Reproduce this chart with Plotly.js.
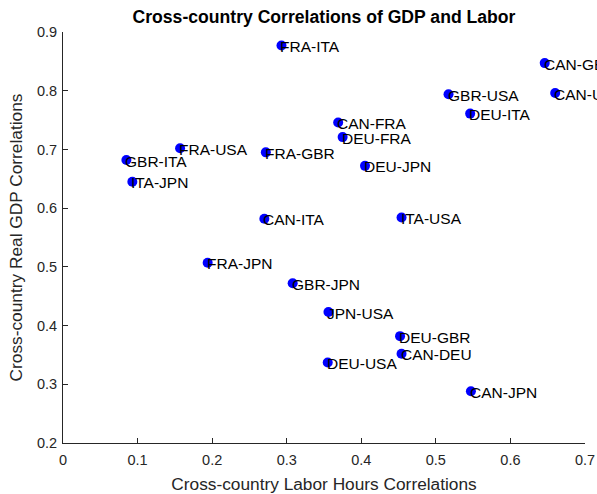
<!DOCTYPE html>
<html>
<head>
<meta charset="utf-8">
<script src="https://cdn.plot.ly/plotly-3.0.1.min.js"></script>
<style>html,body{margin:0;padding:0;background:#fff;}#chart{width:597px;height:494px;}</style>
</head>
<body>
<div id="chart"></div>
<script>
// Country pairs
var pairs = ["FRA-ITA","FRA-USA","GBR-ITA","ITA-JPN","FRA-GBR","CAN-ITA","CAN-GBR","GBR-USA","CAN-USA","DEU-ITA","CAN-FRA","DEU-FRA","DEU-JPN","ITA-USA","FRA-JPN","GBR-JPN","JPN-USA","DEU-GBR","CAN-DEU","DEU-USA","CAN-JPN"];
// Cross-country labor hours correlations
var laborCorr = [0.293,0.157,0.085,0.093,0.272,0.270,0.646,0.517,0.660,0.546,0.369,0.375,0.405,0.454,0.194,0.308,0.356,0.452,0.454,0.355,0.547];
// Cross-country real GDP correlations
var gdpCorr = [0.877,0.702,0.682,0.645,0.695,0.582,0.847,0.794,0.796,0.761,0.746,0.721,0.672,0.584,0.507,0.472,0.423,0.382,0.352,0.337,0.288];
var xTicks = [0,0.1,0.2,0.3,0.4,0.5,0.6,0.7];
var yTicks = [0.2,0.3,0.4,0.5,0.6,0.7,0.8,0.9];

var FONT = '"Liberation Sans", Arial, Helvetica, sans-serif';
var axisColor = '#262626';

var trace = {
  type: 'scatter', mode: 'markers',
  x: laborCorr, y: gdpCorr,
  marker: {color: '#0000ff', size: 10, line: {width: 0}},
  cliponaxis: false,
  hoverinfo: 'skip'
};

var annotations = pairs.map(function(p, i) {
  return {
    x: laborCorr[i], y: gdpCorr[i], xref: 'x', yref: 'y',
    text: p, showarrow: false, xanchor: 'left', yanchor: 'middle',
    xshift: -3, yshift: -1,
    font: {family: FONT, size: 15.5, color: '#000000'}
  };
});

var layout = {
  width: 597, height: 494,
  margin: {l: 63, r: 12, t: 32, b: 51, pad: 0},
  paper_bgcolor: '#ffffff', plot_bgcolor: '#ffffff',
  showlegend: false,
  title: {text: '<b>Cross-country Correlations of GDP and Labor</b>',
    font: {family: FONT, size: 17.6, color: '#000000'},
    x: 0.5427, xanchor: 'center', y: 0.966, yanchor: 'middle'},
  xaxis: {
    range: [0, 0.7], tickvals: xTicks, ticktext: xTicks.map(String),
    showgrid: false, zeroline: false, showline: true, linecolor: axisColor, linewidth: 1,
    ticks: 'inside', ticklen: 5, tickcolor: axisColor, tickwidth: 1,
    ticklabelstandoff: 4,
    tickfont: {family: FONT, size: 14.5, color: axisColor},
    title: {text: 'Cross-country Labor Hours Correlations', standoff: 10,
      font: {family: FONT, size: 17.3, color: axisColor}},
    automargin: false, mirror: false, fixedrange: true
  },
  yaxis: {
    range: [0.2, 0.9], tickvals: yTicks, ticktext: yTicks.map(String),
    showgrid: false, zeroline: false, showline: true, linecolor: axisColor, linewidth: 1,
    ticks: 'inside', ticklen: 5, tickcolor: axisColor, tickwidth: 1,
    ticklabelstandoff: 2,
    tickfont: {family: FONT, size: 14.5, color: axisColor},
    title: {text: 'Cross-country Real GDP Correlations', standoff: 9,
      font: {family: FONT, size: 17.3, color: axisColor}},
    automargin: false, mirror: false, fixedrange: true
  },
  annotations: annotations
};

Plotly.newPlot('chart', [trace], layout, {staticPlot: true, displayModeBar: false});
</script>
</body>
</html>
